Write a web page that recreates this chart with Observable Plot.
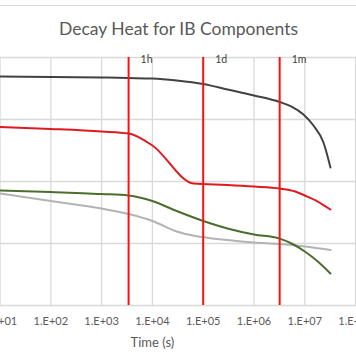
<!DOCTYPE html>
<html>
<head>
<meta charset="utf-8">
<script src="https://cdn.jsdelivr.net/npm/d3@7"></script>
<script src="https://cdn.jsdelivr.net/npm/@observablehq/plot@0.6"></script>
<style>
  html, body { margin: 0; padding: 0; background: #fff; overflow: hidden; }
  #wrap { position: relative; width: 356px; height: 364px; }
  #border { position: absolute; left: 0; top: 5px; width: 356px; height: 0; border-top: 1px solid #d9d9d9; }
</style>
</head>
<body>
<div id="wrap"><div id="border"></div></div>
<script>
// ---- data ----
const title = "Decay Heat for IB Components";
const xLabel = "Time (s)";
const xTicks = [1e1, 1e2, 1e3, 1e4, 1e5, 1e6, 1e7, 1e8];
const yGrid = [1, 10, 100, 1000, 10000];

const markerTimes = [3400, 1e5, 3.2e6];
const markerLabels = ["1h", "1d", "1m"];

const blackTime = [10, 100, 1000, 3400, 1e4, 3e4, 1e5, 3e5, 1e6, 3.2e6, 5.5e6, 9.4e6, 1.48e7, 2.33e7, 3.2e7];
const blackHeat = [4940, 4845, 4755, 4667, 4581, 4254, 3738, 3048, 2439, 1915, 1620, 1205, 800, 426, 168];

const redTime = [10, 100, 1000, 3400, 1e4, 6.5e4, 3e5, 1e6, 3.2e6, 6.5e6, 1e7, 1.8e7, 3.2e7];
const redHeat = [757, 703, 640, 594, 381, 92.8, 87.9, 83.0, 77.1, 69.0, 59.5, 47.5, 35.3];

const greenTime = [10, 100, 1000, 3400, 1e4, 3e4, 1e5, 3e5, 1e6, 3.2e6, 5.5e6, 1e7, 1.8e7, 3.2e7];
const greenHeat = [71.6, 67.7, 62.9, 59.5, 48.4, 33.4, 23.1, 17.5, 14.0, 12.0, 10.0, 7.43, 5.13, 3.28];

const grayTime = [10, 100, 1000, 3400, 1e4, 3e4, 7e4, 3e5, 1e6, 3.2e6, 1e7, 3.2e7];
const grayHeat = [64.0, 48.4, 36.7, 29.9, 23.1, 15.6, 13.2, 11.4, 10.4, 9.82, 8.95, 7.86];

const seriesList = [
  {t: grayTime, v: grayHeat, color: "#b3b3b3"},
  {t: greenTime, v: greenHeat, color: "#4b6e2c"},
  {t: redTime, v: redHeat, color: "#dd1a1f"},
  {t: blackTime, v: blackHeat, color: "#424242"}
];

const toRows = (t, v) => t.map((d, i) => ({t: d, v: v[i]}));
const markers = markerTimes.map((d, i) => ({t: d, label: markerLabels[i]}));

const font = "Lato, 'Liberation Sans', sans-serif";

const chart = Plot.plot({
  width: 356,
  height: 364,
  marginLeft: 0,
  marginRight: 0,
  marginTop: 57,
  marginBottom: 59,
  style: {fontFamily: font, overflow: "visible", background: "transparent"},
  x: {type: "log", domain: [Math.pow(10, 1 + 0.5 / 50.8), Math.pow(10, 1 + 356.5 / 50.8)]},
  y: {type: "log", domain: [1, 10000], axis: null},
  marks: [
    Plot.gridX(xTicks, {stroke: "#d9d9d9", strokeOpacity: 1, strokeWidth: 1.3}),
    Plot.gridY(yGrid, {stroke: "#d9d9d9", strokeOpacity: 1, strokeWidth: 1.3}),
    Plot.axisX(xTicks, {
      tickSize: 0, tickPadding: 12, fontSize: 11, fill: "#595959",
      tickFormat: d => "1.E+" + String(Math.round(Math.log10(d))).padStart(2, "0"),
      label: null
    }),
    Plot.text([xLabel], {x: [1e4], frameAnchor: "bottom", lineAnchor: "middle", dy: 37, fontSize: 13, fill: "#595959"}),
    Plot.text([title], {frameAnchor: "top", lineAnchor: "middle", dy: -28, fontSize: 17.5, fill: "#595959"}),
    ...seriesList.map(s => Plot.line(toRows(s.t, s.v), {x: "t", y: "v", stroke: s.color, strokeWidth: 2, curve: "monotone-x"})),
    Plot.ruleX(markers, {x: "t", stroke: "#ff1010", strokeWidth: 2}),
    Plot.text(markers, {x: "t", text: "label", frameAnchor: "top", lineAnchor: "middle", dy: 2, dx: 12, textAnchor: "start", fontSize: 10.5, fill: "#404040"})
  ]
});
document.getElementById("wrap").appendChild(chart);
chart.style.position = "absolute";
chart.style.left = "0px";
chart.style.top = "0px";
</script>
</body>
</html>
